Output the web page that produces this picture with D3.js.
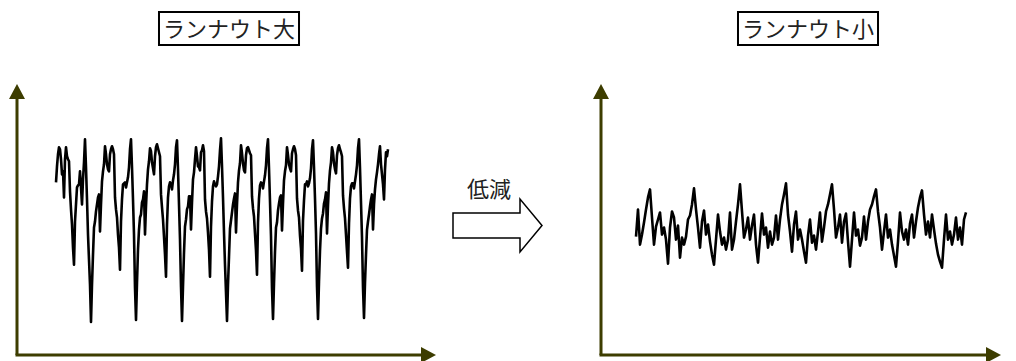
<!DOCTYPE html>
<html><head><meta charset="utf-8">
<script src="https://cdn.jsdelivr.net/npm/d3@7"></script>
<style>body{margin:0;background:#fff}svg{display:block}</style>
</head><body>
<svg id="c" width="1016" height="361"></svg>
<script>
// Panel titles and middle label
const titles = ["ランナウト大", "ランナウト小"];
const arrowLabel = "低減";

// Large runout signal (arbitrary amplitude units, evenly spaced samples)
const largeRunout = [
172,188,200,207,205,195,180,183,157,195,207,198,195,193,163,145,130,107,90,133,150,167,169,170,183,167,150,175,192,215,187,155,120,95,70,
33,70,100,127,133,143,150,157,160,123,150,173,183,190,208,200,190,185,183,200,205,208,205,200,157,145,137,120,107,85,133,155,170,171,172,167,172,177,187,205,215,187,155,120,67,
35,72,105,125,137,140,152,155,163,120,148,170,185,193,206,203,192,186,180,198,207,210,206,202,198,160,147,135,118,100,78,130,157,168,172,170,165,174,180,190,207,214,185,150,115,68,
34,68,102,128,135,145,148,158,158,125,152,175,182,195,207,198,188,187,184,202,204,209,203,155,143,136,122,105,78,128,153,168,173,170,168,170,178,188,204,216,188,157,122,90,62,
34,70,98,126,134,142,150,156,161,122,150,172,184,191,209,201,191,184,182,199,206,207,204,201,199,158,146,138,121,104,80,132,156,169,172,171,166,173,179,189,206,215,186,153,118,66,
36,71,103,127,132,144,151,157,159,124,151,174,183,189,207,199,190,186,183,201,205,208,205,199,156,144,137,119,106,84,134,154,170,170,173,168,171,176,186,205,214,187,156,121,68,
36,73,104,126,136,141,151,155,162,121,149,171,184,192,207,202,191,185,181,199,206,209,205,202,198,159,146,136,120,103,87,131,156,168,171,171,166,173,180,189,206,215,186,152,117,67,
37,72,100,125,133,140,148,155,160,125,150,165,175,182,190,200,208,190,180,170,155,185,202,198,205
];

// Small runout signal
const smallRunout = [
118,145,110,120,132,145,157,165,137,110,128,135,142,120,127,115,91,127,143,137,115,129,97,117,110,118,135,139,150,166,
145,127,107,133,144,120,130,113,100,90,115,140,123,110,117,105,115,142,105,115,133,150,170,143,117,125,137,115,129,140,
110,92,117,141,120,127,107,123,110,117,139,115,135,150,160,171,140,123,103,130,143,115,125,115,103,92,119,135,112,119,
105,123,142,113,127,143,150,160,170,145,117,127,140,112,133,141,113,88,115,142,119,125,109,117,138,115,133,145,150,158,
165,143,127,105,123,140,117,125,110,99,88,113,142,123,115,125,110,131,140,117,133,147,157,164,140,120,133,117,140,125,
111,100,93,87,115,140,115,123,110,120,137,115,127,110,135,142
];

const svg = d3.select("#c");
const axisColor = "#3d3d00";

const yDomain = [0, 270];
const panels = [
  { data: largeRunout, axisX: 17, axisEnd: 436, x0: 56, x1: 388, title: titles[0], tx: 229 },
  { data: smallRunout, axisX: 601, axisEnd: 1001, x0: 636, x1: 966, title: titles[1], tx: 808 }
];

const y = d3.scaleLinear().domain(yDomain).range([355, 84]);

panels.forEach(p => {
  const g = svg.append("g");
  const x = d3.scaleLinear().domain([0, p.data.length - 1]).range([p.x0, p.x1]);
  const y0 = y(0), yTop = y(yDomain[1]);
  // y axis
  g.append("line").attr("x1", p.axisX).attr("x2", p.axisX).attr("y1", y0).attr("y2", yTop + 12)
    .attr("stroke", axisColor).attr("stroke-width", 3);
  g.append("path").attr("d", `M${p.axisX},${yTop} L${p.axisX - 8},${yTop + 15} L${p.axisX + 8},${yTop + 15} Z`)
    .attr("fill", axisColor);
  // x axis
  g.append("line").attr("x1", p.axisX - 1.5).attr("x2", p.axisEnd - 12).attr("y1", y0).attr("y2", y0)
    .attr("stroke", axisColor).attr("stroke-width", 3);
  g.append("path").attr("d", `M${p.axisEnd},${y0} L${p.axisEnd - 15},${y0 - 8} L${p.axisEnd - 15},${y0 + 8} Z`)
    .attr("fill", axisColor);
  // signal
  const line = d3.line().x((d, i) => x(i)).y(d => y(d));
  g.append("path").datum(p.data).attr("d", line)
    .attr("fill", "none").attr("stroke", "#000").attr("stroke-width", 2.6).attr("stroke-linejoin", "round");
  // title
  const t = g.append("text").attr("x", p.tx).attr("y", 37).attr("text-anchor", "middle")
    .attr("font-family", "'Noto Sans CJK JP'").attr("font-size", 22).attr("fill", "#222")
    .text(p.title);
  const bb = t.node().getBBox();
  g.insert("rect", "text").attr("x", bb.x - 4).attr("y", 12).attr("width", bb.width + 8).attr("height", 33)
    .attr("fill", "none").attr("stroke", "#000").attr("stroke-width", 2);
});

// middle "reduction" arrow
svg.append("text").attr("x", 489).attr("y", 197).attr("text-anchor", "middle")
  .attr("font-family", "'Noto Sans CJK JP'").attr("font-size", 22).attr("fill", "#222").text(arrowLabel);
svg.append("path")
  .attr("d", "M453,213 L520,213 L520,199 L542,225.5 L520,252 L520,238 L453,238 Z")
  .attr("fill", "#fff").attr("stroke", "#000").attr("stroke-width", 1.5);
</script>
</body></html>
